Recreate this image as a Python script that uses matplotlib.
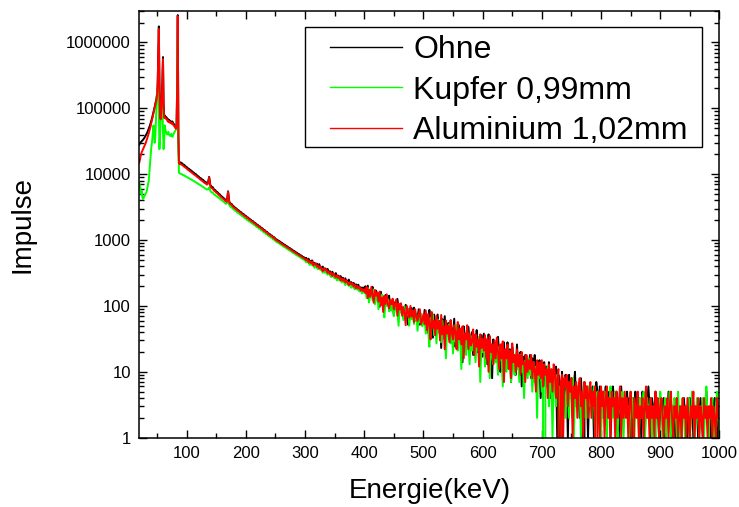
import numpy as np
import matplotlib
matplotlib.use('Agg')
import matplotlib.pyplot as plt
from matplotlib.patches import Rectangle
from matplotlib.ticker import LogLocator, NullFormatter, FuncFormatter, MultipleLocator

plt.rcParams['font.family'] = ['Liberation Sans', 'DejaVu Sans']

# Channel energies (keV): 1 keV steps below 90 keV, 2 keV steps above
energy_fine = np.arange(20, 90)
energy_coarse = np.arange(90, 1001, 2)

# --- Ohne (no filter) ---
ohne_low = [28000, 29500, 30500, 31000, 31500, 32500, 33000, 34000, 35000, 36000,
            37500, 39000, 40500, 42000, 44000, 46500, 49000, 52000, 55000, 59000,
            63000, 68000, 74000, 80000, 87000, 95000, 105000, 115000, 125000, 140000,
            165000, 230000, 600000, 1750000, 250000, 80000, 70000, 85000, 150000, 260000,
            600000, 120000, 76000, 78000, 74000, 72000, 73000, 70000, 66000, 68000,
            65000, 66000, 63000, 64000, 62000, 61000, 63000, 60000, 58000, 57000,
            55000, 53000, 52000, 56000, 250000, 2600000, 40000, 15600, 15300, 15100]
ohne_mid = [15000, 14700, 14050, 13800, 13150, 12850, 12300, 12050, 11550, 11300,
            10850, 10550, 10150, 9950, 9480, 9250, 8850, 8650, 8350, 8150,
            7750, 7650, 7250, 7400, 9100, 6850, 6450, 6350, 5900, 5750,
            5480, 5330, 5080, 4930, 4680, 4540, 4370, 4230, 4000, 3900,
            5500, 3820, 3590, 3520, 3330, 3220, 3090, 3020, 2880, 2820,
            2700, 2650, 2530, 2490, 2370, 2330, 2220, 2190, 2080, 2060,
            1960, 1940, 1840, 1820, 1720, 1710, 1620, 1610, 1520, 1510,
            1420, 1415, 1340, 1330, 1250, 1245, 1180, 1175, 1100, 1105,
            1040, 1022, 992, 972, 940, 912, 892, 862, 846, 816,
            800, 772, 759, 731, 718, 690, 680, 654, 644, 620,
            611, 587, 580, 556, 550, 528]
ohne_high = [536, 493, 521, 461, 479, 491, 434, 451, 406, 439,
             405, 431, 374, 385, 396, 342, 371, 341, 365, 323,
             336, 303, 330, 304, 285, 315, 276, 289, 256, 284,
             259, 268, 233, 263, 235, 239, 251, 213, 230, 209,
             224, 190, 213, 201, 210, 182, 192, 171, 191, 172,
             199, 153, 203, 134, 173, 146, 195, 120, 155, 171,
             122, 155, 97, 164, 126, 139, 101, 147, 110, 121,
             143, 95, 110, 123, 72, 114, 90, 128, 93, 79,
             109, 83, 95, 69, 104, 82, 52, 90, 70, 93,
             72, 94, 60, 76, 63, 89, 52, 72, 65, 56,
             87, 49, 73, 39, 87, 53, 64, 33, 74, 52,
             40, 74, 45, 59, 23, 63, 40, 70, 33, 47,
             55, 30, 60, 39, 33, 64, 24, 44, 34, 51,
             29, 44, 14, 49, 33, 38, 24, 48, 27, 31,
             40, 18, 35, 27, 43, 20, 29, 22, 36, 17,
             38, 18, 31, 13, 37, 21, 26, 8, 31, 17,
             26, 14, 34, 17, 10, 26, 19, 28, 11, 19,
             28, 12, 22, 7, 24, 15, 18, 9, 26, 12,
             15, 20, 6, 17, 12, 18, 10, 15, 12, 18,
             8, 16, 11, 18, 6, 13, 9, 15, 4, 12,
             10, 14, 6, 12, 7, 14, 4, 10, 8, 11,
             8, 12, 1, 9, 5, 0, 10, 6, 3, 9,
             7, 1, 9, 4, 8, 2, 6, 10, 3, 5,
             6, 2, 8, 4, 0, 7, 3, 6, 1, 5,
             5, 3, 6, 1, 4, 7, 5, 2, 6, 4,
             3, 5, 4, 6, 2, 4, 5, 1, 3, 6,
             4, 2, 5, 3, 1, 4, 6, 3, 2, 4,
             3, 5, 2, 4, 3, 0, 4, 2, 5, 3,
             2, 4, 3, 1, 5, 3, 2, 4, 3, 6,
             3, 1, 4, 2, 3, 5, 2, 3, 1, 4,
             2, 3, 4, 1, 3, 2, 5, 2, 3, 1,
             3, 2, 1, 4, 2, 3, 0, 3, 2, 4,
             2, 3, 1, 2, 4, 2, 3, 1, 3, 2,
             3, 1, 2, 4, 2, 1, 3, 2, 5, 2,
             2, 3, 1, 2, 3, 4, 2, 1, 3, 2]

# --- Kupfer 0,99 mm ---
kupfer_low = [7500, 6500, 5600, 5000, 5600, 4600, 4200, 4300, 4500, 4700,
              4900, 5100, 5300, 5800, 6500, 7200, 8000, 10500, 14000, 19000,
              24000, 29000, 34000, 45000, 55000, 40000, 30000, 36000, 60000, 100000,
              180000, 210000, 270000, 90000, 24000, 40000, 62000, 80000, 100000, 140000,
              45000, 24000, 32000, 55000, 48000, 44000, 42000, 40000, 41000, 44000,
              40000, 39000, 38000, 40000, 41000, 38000, 37000, 39000, 41000, 43000,
              44000, 46000, 48000, 52000, 150000, 1200000, 25000, 10500, 10300, 10200]
kupfer_mid = [10100, 9950, 9700, 9550, 9300, 9100, 8850, 8700, 8450, 8300,
              8050, 7900, 7650, 7500, 7250, 7100, 6900, 6750, 6550, 6400,
              6150, 6050, 5850, 5900, 6300, 5600, 5300, 5250, 4950, 4850,
              4650, 4550, 4380, 4270, 4080, 3980, 3830, 3730, 3550, 3600,
              3850, 3400, 3200, 3150, 2990, 2900, 2780, 2720, 2600, 2550,
              2440, 2400, 2290, 2260, 2150, 2120, 2020, 1990, 1900, 1880,
              1790, 1770, 1690, 1670, 1580, 1570, 1490, 1480, 1400, 1390,
              1310, 1305, 1235, 1225, 1155, 1150, 1090, 1085, 1020, 1020,
              960, 938, 914, 893, 866, 840, 820, 794, 776, 752,
              735, 712, 697, 673, 660, 636, 625, 603, 591, 571,
              561, 541, 532, 512, 505, 486]
kupfer_high = [459, 481, 451, 419, 458, 413, 424, 379, 413, 380,
               361, 393, 351, 358, 319, 353, 318, 334, 297, 324,
               294, 275, 301, 276, 262, 278, 244, 272, 243, 253,
               227, 251, 226, 207, 232, 214, 202, 215, 189, 211,
               190, 179, 197, 177, 178, 166, 182, 155, 169, 158,
               171, 131, 187, 113, 146, 167, 123, 177, 106, 128,
               156, 89, 136, 109, 149, 95, 67, 127, 100, 126,
               83, 108, 85, 124, 70, 95, 107, 82, 50, 104,
               81, 91, 61, 99, 67, 76, 89, 50, 80, 63,
               85, 53, 65, 76, 42, 66, 56, 76, 49, 55,
               66, 38, 74, 44, 24, 66, 48, 73, 36, 53,
               27, 62, 39, 52, 28, 60, 33, 42, 16, 50,
               35, 53, 27, 42, 19, 46, 29, 51, 21, 35,
               40, 11, 44, 25, 36, 18, 40, 26, 13, 35,
               21, 38, 25, 14, 31, 21, 34, 7, 26, 20,
               28, 12, 29, 17, 22, 8, 26, 18, 13, 26,
               14, 22, 9, 24, 15, 18, 6, 20, 15, 10,
               23, 11, 17, 7, 19, 14, 9, 19, 11, 14,
               7, 18, 10, 14, 4, 15, 11, 8, 16, 9,
               12, 5, 14, 7, 12, 2, 12, 8, 10, 5,
               12, 0, 10, 6, 12, 3, 7, 10, 1, 8,
               7, 3, 9, 5, 6, 1, 8, 4, 6, 2,
               5, 7, 2, 6, 4, 8, 1, 5, 3, 6,
               4, 6, 1, 5, 3, 7, 2, 4, 6, 3,
               5, 2, 4, 6, 1, 3, 5, 2, 4, 1,
               4, 2, 5, 3, 1, 4, 2, 6, 3, 2,
               3, 5, 2, 1, 4, 3, 2, 5, 1, 3,
               4, 2, 3, 1, 5, 2, 4, 1, 3, 2,
               3, 1, 4, 2, 3, 5, 1, 2, 4, 2,
               2, 4, 1, 3, 2, 1, 4, 3, 2, 5,
               3, 1, 2, 4, 1, 3, 2, 5, 1, 3,
               2, 4, 3, 1, 5, 2, 1, 3, 4, 2,
               1, 3, 2, 4, 1, 2, 5, 3, 1, 2,
               4, 2, 1, 3, 2, 4, 1, 3, 6, 2,
               1, 3, 2, 4, 1, 2, 3, 5, 2, 1]

# --- Aluminium 1,02 mm ---
alu_low = [15000, 16500, 18500, 20000, 21500, 22500, 23500, 24500, 26000, 27000,
           28500, 30000, 32000, 34000, 36500, 39000, 42000, 45000, 49000, 53000,
           58000, 64000, 70000, 77000, 85000, 93000, 102000, 112000, 123000, 135000,
           160000, 220000, 560000, 1600000, 230000, 75000, 68000, 82000, 140000, 250000,
           560000, 110000, 72000, 74000, 70000, 71000, 69000, 67000, 63000, 65000,
           62000, 63000, 60000, 61000, 59000, 58000, 60000, 57000, 55000, 54000,
           52000, 50000, 49000, 56000, 200000, 2500000, 35000, 14600, 14300, 14100]
alu_mid = [14200, 13900, 13400, 13000, 12600, 12200, 11700, 11400, 11000, 10700,
           10300, 10000, 9700, 9400, 9050, 8800, 8450, 8200, 7950, 7700,
           7400, 7250, 6950, 7150, 8900, 6550, 6150, 6050, 5650, 5500,
           5250, 5100, 4870, 4720, 4500, 4360, 4200, 4070, 3870, 3800,
           5400, 3700, 3480, 3400, 3230, 3120, 3000, 2930, 2800, 2740,
           2630, 2570, 2460, 2420, 2310, 2270, 2170, 2130, 2030, 2010,
           1910, 1890, 1800, 1770, 1680, 1670, 1580, 1570, 1490, 1470,
           1390, 1380, 1310, 1300, 1225, 1215, 1155, 1150, 1080, 1080,
           1010, 996, 958, 945, 909, 886, 862, 838, 818, 794,
           773, 752, 735, 711, 695, 672, 657, 637, 623, 604,
           590, 572, 561, 541, 533, 514]
alu_high = [494, 513, 457, 479, 446, 471, 412, 433, 444, 393,
            413, 371, 397, 362, 337, 375, 346, 361, 317, 333,
            306, 324, 284, 313, 291, 271, 290, 265, 283, 244,
            261, 240, 257, 227, 242, 223, 207, 231, 212, 224,
            197, 209, 185, 202, 184, 195, 171, 182, 168, 179,
            157, 195, 131, 178, 137, 195, 146, 112, 175, 143,
            161, 116, 165, 103, 134, 81, 142, 107, 150, 106,
            92, 122, 106, 129, 89, 105, 125, 71, 109, 88,
            109, 71, 95, 79, 51, 100, 81, 66, 100, 69,
            85, 57, 89, 69, 59, 73, 89, 53, 60, 75,
            53, 85, 43, 75, 54, 31, 81, 46, 59, 36,
            71, 45, 59, 30, 73, 37, 49, 22, 60, 38,
            50, 28, 61, 39, 31, 51, 40, 22, 57, 31,
            45, 26, 49, 16, 38, 31, 51, 22, 38, 25,
            29, 44, 18, 37, 24, 31, 12, 37, 23, 32,
            21, 36, 16, 31, 10, 35, 20, 26, 13, 30,
            16, 33, 20, 11, 26, 16, 29, 7, 22, 16,
            26, 11, 21, 8, 27, 14, 18, 10, 22, 12,
            18, 9, 20, 13, 14, 7, 18, 10, 15, 11,
            18, 8, 14, 11, 5, 15, 9, 14, 8, 15,
            6, 13, 9, 11, 4, 13, 7, 11, 5, 13,
            10, 4, 8, 11, 0, 7, 9, 1, 8, 6,
            9, 3, 7, 5, 8, 1, 6, 4, 7, 2,
            6, 8, 3, 5, 1, 7, 4, 6, 2, 5,
            7, 2, 5, 3, 6, 0, 4, 5, 1, 6,
            3, 5, 1, 4, 6, 2, 4, 1, 5, 3,
            4, 1, 5, 2, 3, 6, 1, 4, 2, 5,
            2, 4, 1, 3, 5, 2, 0, 4, 3, 2,
            5, 1, 3, 2, 4, 1, 3, 6, 2, 3,
            1, 4, 2, 3, 1, 5, 2, 4, 1, 3,
            4, 2, 1, 3, 2, 4, 1, 3, 5, 2,
            1, 3, 2, 4, 1, 2, 3, 1, 4, 2,
            3, 1, 4, 2, 1, 3, 2, 5, 1, 3,
            2, 4, 1, 3, 2, 1, 4, 2, 3, 1,
            3, 2, 4, 1, 3, 2, 1, 4, 2, 3]

energy = np.concatenate([energy_fine, energy_coarse])
series = [
    ('Ohne', ohne_low + ohne_mid + ohne_high, '#000000'),
    ('Kupfer 0,99mm', kupfer_low + kupfer_mid + kupfer_high, '#00ff00'),
    ('Aluminium 1,02mm', alu_low + alu_mid + alu_high, '#ff0000'),
]

fig = plt.figure(figsize=(7.39, 5.07), dpi=100)
ax = fig.add_axes([0.1885, 0.1367, 0.785, 0.8416])

for label, counts, color in series:
    ax.plot(energy, counts, color=color, linewidth=1.4, label=label)

ax.set_yscale('log', nonpositive='clip')
ax.set_xlim(20, 1000)
ax.set_ylim(1, 3e6)

ax.xaxis.set_major_locator(MultipleLocator(100))
ax.xaxis.set_minor_locator(MultipleLocator(50))
ax.yaxis.set_major_locator(LogLocator(base=10, numticks=20))
ax.yaxis.set_minor_locator(LogLocator(base=10, subs=np.arange(2, 10), numticks=100))
ax.yaxis.set_major_formatter(FuncFormatter(lambda v, p: '%d' % round(v)))
ax.yaxis.set_minor_formatter(NullFormatter())

ax.tick_params(which='both', direction='in', top=True, right=True, width=1.0,
               labelsize=12, pad=6)
ax.tick_params(which='major', length=6)
ax.tick_params(which='minor', length=3.5)
for s in ax.spines.values():
    s.set_linewidth(1.1)

ax.set_xlabel('Energie(keV)', fontsize=20, labelpad=12)
ax.set_ylabel('Impulse', fontsize=20, labelpad=22)

# legend box drawn separately so its padding can differ per side
ax.add_patch(Rectangle((305 / 739, 1 - 147 / 507), 397 / 739, 120 / 507,
                       transform=fig.transFigure, facecolor='white',
                       edgecolor='black', linewidth=1.0, clip_on=False, zorder=4))
leg = ax.legend(loc='upper left', bbox_to_anchor=(330 / 739, 1 - 35 / 507),
                bbox_transform=fig.transFigure, borderaxespad=0, borderpad=0,
                fontsize=23, handlelength=2.25, handletextpad=0.35,
                labelspacing=0.33, frameon=False)
leg.set_zorder(5)
for h in leg.get_lines():
    h.set_linewidth(1.0)

fig.savefig('out.png', dpi=100)
